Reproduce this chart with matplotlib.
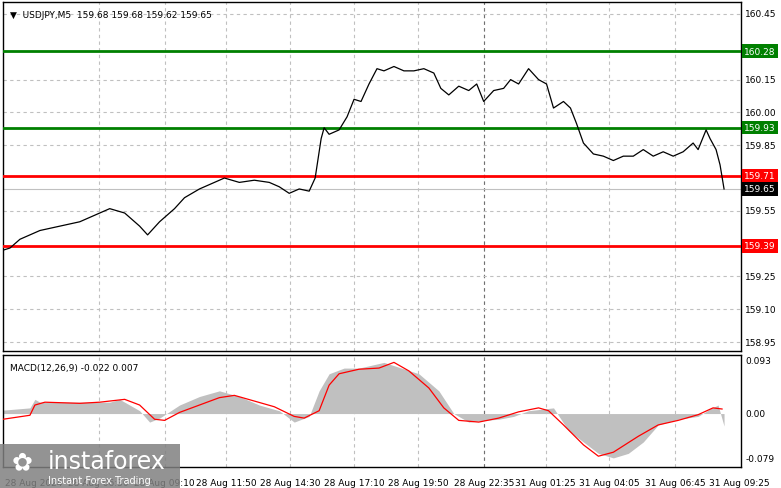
import matplotlib
matplotlib.use("Agg")
import matplotlib.pyplot as plt
from matplotlib.patches import Rectangle

# price line (bar index, close)
bars = [0,3.5,8.5,13.5,18.5,28.5,38.5,48.5,53.5,61,68.5,72.5,78.5,86,91,98.5,106,111,118.5,126,133.5,138.5,143.5,148.5,153.5,156.5,159.5,161,163.5,168.5,172.5,176,179.5,183.5,187.5,191,196,201,206,211,216,219.5,223.5,228.5,233.5,237.5,241,246,251,254.5,258.5,263.5,268.5,272.5,276,281,284.5,287.5,291,296,301,306,311,316,321,326,331,336,341,346,348.5,352.5,354.5,357.5,359.5,361.5]
close = [159.37,159.38,159.42,159.44,159.46,159.48,159.50,159.54,159.56,159.54,159.48,159.44,159.50,159.56,159.61,159.65,159.68,159.70,159.68,159.69,159.68,159.66,159.63,159.65,159.64,159.70,159.88,159.93,159.90,159.92,159.98,160.06,160.05,160.13,160.20,160.19,160.21,160.19,160.19,160.20,160.18,160.11,160.08,160.12,160.10,160.13,160.05,160.10,160.11,160.15,160.13,160.20,160.15,160.13,160.02,160.05,160.02,159.95,159.86,159.81,159.80,159.78,159.80,159.80,159.83,159.80,159.82,159.80,159.82,159.86,159.83,159.92,159.88,159.83,159.76,159.65]

hist_x = [0,13.5,16,18.5,53.5,58.5,68.5,73.5,78.5,88.5,98.5,108.5,118.5,128.5,138.5,146,153.5,158.5,163.5,171,178.5,191,208.5,218.5,226,233.5,241,248.5,256,263.5,271,276,283.5,291,298.5,306,313.5,321,328.5,338.5,348.5,354.5,358.5,361.5]
hist = [0.006,0.01,0.025,0.02,0.02,0.025,0.005,-0.015,-0.008,0.015,0.03,0.04,0.03,0.015,0.005,-0.015,-0.005,0.04,0.07,0.08,0.08,0.09,0.07,0.04,0.0,-0.015,-0.012,-0.01,-0.005,0.005,0.008,0.01,-0.03,-0.05,-0.07,-0.078,-0.07,-0.05,-0.02,-0.01,-0.005,0.008,0.015,-0.022]
sig_x = [0,13.5,16,21,38.5,48.5,61,68.5,76,81,88.5,98.5,108.5,116,126,136,146,151,158.5,163.5,168.5,178.5,188.5,196,203.5,213.5,221,228.5,238.5,248.5,258.5,268.5,273.5,281,291,298.5,306,318.5,328.5,338.5,348.5,356,360.5]
sig = [-0.01,-0.003,0.015,0.02,0.018,0.02,0.025,0.015,-0.01,-0.012,0.002,0.015,0.028,0.032,0.022,0.012,-0.005,-0.008,0.005,0.05,0.07,0.078,0.08,0.09,0.075,0.045,0.01,-0.012,-0.015,-0.008,0.003,0.01,0.005,-0.02,-0.055,-0.075,-0.068,-0.04,-0.02,-0.012,-0.002,0.01,0.008]

price_ticks = [160.45,160.15,160.00,159.85,159.55,159.25,159.10,158.95]
levels = [(160.28,'green'),(159.93,'green'),(159.71,'red'),(159.39,'red')]
last_price = 159.65
time_pos = [1,48,81,112,144,176,208,241,272,304,337,369]
time_lab = ['28 Aug 2024','28 Aug 06:30','28 Aug 09:10','28 Aug 11:50','28 Aug 14:30','28 Aug 17:10','28 Aug 19:50','28 Aug 22:35','31 Aug 01:25','31 Aug 04:05','31 Aug 06:45','31 Aug 09:25']

W,H = 781,489
fig = plt.figure(figsize=(W/100,H/100),dpi=100)
fs = 6.5
def ax_at(x0,y0,x1,y1):
    return fig.add_axes([x0/W,1-y1/H,(x1-x0)/W,(y1-y0)/H])
ax = ax_at(3,3,741,352)
ax2 = ax_at(3,356,741,468)
XL = (0,370)
grid_kw = dict(color='#c0c0c0',ls=(0,(3,3)),lw=0.8)
for a in (ax,ax2):
    a.set_xlim(*XL)
    for s in a.spines.values(): s.set_lw(1)
    a.set_xticks([]); a.set_yticks([])
    for tp in time_pos[1:-1]:
        a.axvline(tp,**grid_kw,zorder=0)
    a.axvline(241,color='#707070',ls=(0,(3,3)),lw=0.8,zorder=0)
ylo = 160.45 - (352-15)/218.7
yhi = 160.45 + 12/218.7
ax.set_ylim(ylo,yhi)
for p in price_ticks:
    ax.axhline(p,**grid_kw,zorder=0)
    ax.text(1.006,p,f'{p:.2f}',transform=ax.get_yaxis_transform(),fontsize=fs,va='center',ha='left',clip_on=False)
for v,c in levels:
    ax.axhline(v,color=c,lw=2,zorder=3)
    fc = '#008000' if c=='green' else '#ff0000'
    ax.text(1.004,v,f'{v:.2f}',transform=ax.get_yaxis_transform(),fontsize=fs,va='center',ha='left',color='white',
            bbox=dict(boxstyle='square,pad=0.25',fc=fc,ec='none'),clip_on=False)
ax.axhline(last_price,color='#c0c0c0',lw=0.8,zorder=2)
ax.text(1.004,last_price,f'{last_price:.2f}',transform=ax.get_yaxis_transform(),fontsize=fs,va='center',ha='left',color='white',
        bbox=dict(boxstyle='square,pad=0.25',fc='black',ec='none'),clip_on=False)
ax.plot(bars,close,color='black',lw=0.9,zorder=4)
ax.text(0.01,0.978,'▼  USDJPY,M5  159.68 159.68 159.62 159.65',transform=ax.transAxes,fontsize=fs,va='top')

ax2.set_ylim(-0.094,0.103)
ax2.fill_between(hist_x,0,hist,color='#c0c0c0',lw=0,zorder=1)
ax2.plot(sig_x,sig,color='red',lw=0.9,zorder=3)
for v,l in [(0.093,'0.093'),(0.0,'0.00'),(-0.079,'-0.079')]:
    ax2.text(1.006,v,l,transform=ax2.get_yaxis_transform(),fontsize=fs,va='center',ha='left',clip_on=False)
ax2.text(0.01,0.93,'MACD(12,26,9) -0.022 0.007',transform=ax2.transAxes,fontsize=fs,va='top')
for tp,tl in zip(time_pos,time_lab):
    ha = 'left' if tp==1 else 'center'
    ax2.text(tp,-0.1,tl,transform=ax2.get_xaxis_transform(),fontsize=fs,va='top',ha=ha,clip_on=False)

fig.patches.append(Rectangle((0,1-489/H),180/W,(489-445)/H,transform=fig.transFigure,fc='#808080',alpha=0.85,ec='none'))
fig.text(48/W,1-462/H,'instaforex',fontsize=17,color='white',va='center',ha='left')
fig.text(48/W,1-481/H,'Instant Forex Trading',fontsize=7,color='white',va='center',ha='left')
fig.text(22/W,1-463/H,'✿',fontsize=18,color='white',va='center',ha='center')
fig.savefig('out.png',dpi=100)
